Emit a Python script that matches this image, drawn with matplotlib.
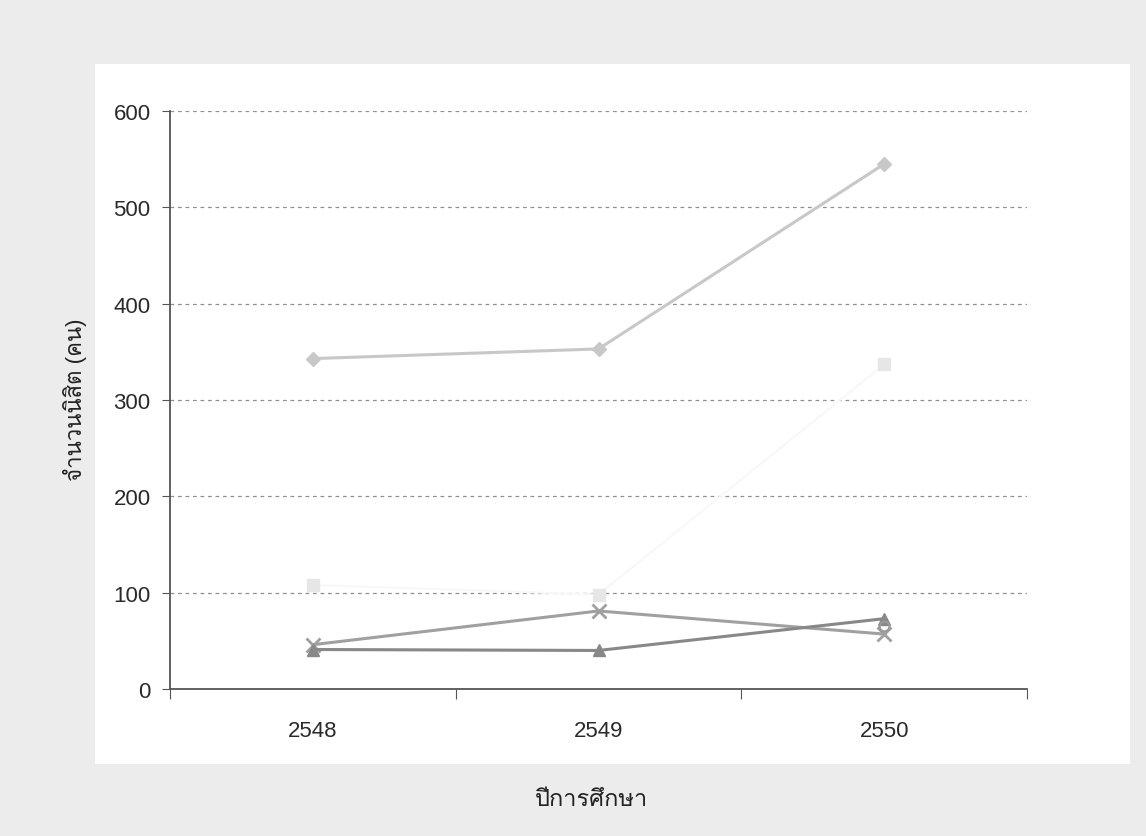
import numpy as np
import matplotlib
matplotlib.use("Agg")
import matplotlib.pyplot as plt
from matplotlib import font_manager
from matplotlib.ft2font import FT2Font
from matplotlib.patches import Rectangle

years = ["2548", "2549", "2550"]
s_diamond = [343, 353, 545]
s_square = [108, 98, 337]
s_cross = [46, 81, 57]
s_triangle = [41, 40, 73]
s_circle = [np.nan, np.nan, 65]

y_label = "จำนวนนิสิต (คน)"
x_label = "ปีการศึกษา"

# look for an installed font that has Thai glyphs
thai_font = None
for f in font_manager.fontManager.ttflist:
    try:
        if 0x0E08 in FT2Font(f.fname).get_charmap():
            thai_font = f.name
            break
    except Exception:
        pass
fams = ["Liberation Sans", "DejaVu Sans"]
if thai_font:
    fams = ["Liberation Sans", thai_font, "DejaVu Sans"]
plt.rcParams['font.family'] = fams

fig = plt.figure(figsize=(11.46, 8.37), dpi=100, facecolor='#ececec')
fig.patches.append(Rectangle((95 / 1146, 1 - 765 / 837), 1035 / 1146, 700 / 837,
                             transform=fig.transFigure, facecolor='white',
                             edgecolor='none', zorder=-10))

ax = fig.add_axes([170 / 1146, 1 - 690 / 837, 857 / 1146, 578 / 837])
ax.set_facecolor('none')

x = np.arange(len(years))
ax.plot(x, s_square, color='#f8f8f8', lw=1.5, marker='s', ms=8,
        mfc='#e6e6e6', mec='#e6e6e6', zorder=2)
ax.plot(x, s_diamond, color='#c8c8c8', lw=2.2, marker='D', ms=7, zorder=3)
ax.plot(x, s_cross, color='#a0a0a0', lw=2.2, marker='x', ms=10, mew=2, zorder=3)
ax.plot(x, s_triangle, color='#888888', lw=2.2, marker='^', ms=9, zorder=3)
ax.plot(x, s_circle, color='#999999', lw=2, marker='o', ms=7, mfc='none', mew=1.5, zorder=3)

ax.set_xlim(-0.5, 2.5)
ax.set_ylim(0, 600)
ax.set_yticks(range(0, 601, 100))
ax.yaxis.grid(True, linestyle=(0, (3, 3)), color='#909090', linewidth=0.9)
ax.set_axisbelow(True)

ax.set_xticks([-0.5, 0.5, 1.5, 2.5])
ax.set_xticklabels([])
ax.set_xticks(x, minor=True)
ax.set_xticklabels(years, minor=True)
ax.tick_params(axis='x', which='major', direction='out', length=7, color='#555555')
ax.tick_params(axis='x', which='minor', length=0, pad=22, labelsize=16, labelcolor='#2a2a2a')
ax.tick_params(axis='y', direction='out', length=6, color='#555555', labelsize=16,
               labelcolor='#2a2a2a', pad=8)

for s in ['top', 'right']:
    ax.spines[s].set_visible(False)
for s in ['left', 'bottom']:
    ax.spines[s].set_color('#555555')
    ax.spines[s].set_linewidth(1.3)

fig.text(592 / 1146, 1 - 800 / 837, x_label, ha='center', va='center',
         fontsize=17, color='#222222')
fig.text(75 / 1146, 1 - 400 / 837, y_label, ha='center', va='center',
         rotation=90, fontsize=16, color='#222222')

fig.savefig("out.png", dpi=100, facecolor=fig.get_facecolor())
